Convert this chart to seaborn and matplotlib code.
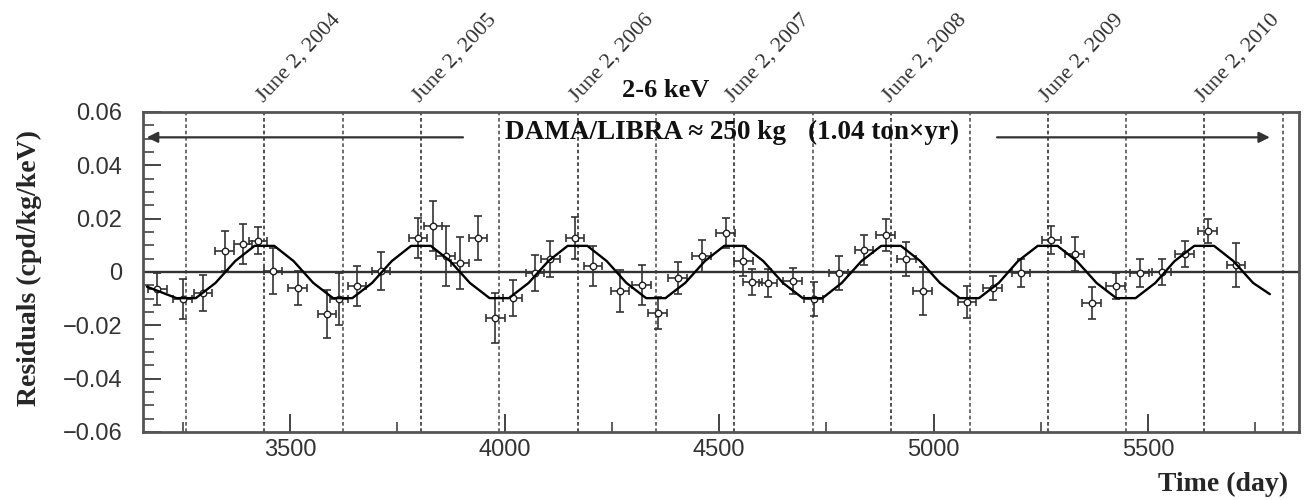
import matplotlib
matplotlib.use("Agg")
import matplotlib.pyplot as plt
import numpy as np
import pandas as pd
import seaborn as sns
from matplotlib.ticker import FixedLocator, FixedFormatter, MultipleLocator

# ---------------- data ----------------
day = [3190, 3250, 3297, 3348, 3390, 3425, 3460, 3518, 3586, 3614,
       3656, 3712, 3798, 3833, 3863, 3896, 3938, 3978, 4019, 4071,
       4106, 4164, 4206, 4269, 4320, 4357, 4404, 4460, 4516, 4556,
       4577, 4614, 4672, 4721, 4779, 4838, 4889, 4936, 4975, 5078,
       5138, 5204, 5274, 5329, 5369, 5425, 5481, 5532, 5586, 5639,
       5705]
residual = [-0.0064, -0.0102, -0.0079, 0.0079, 0.0105, 0.0117, 0.0004, -0.0060, -0.0158, -0.0102,
            -0.0053, 0.0004, 0.0128, 0.0173, 0.0060, 0.0034, 0.0128, -0.0173, -0.0098, -0.0004,
            0.0049, 0.0128, 0.0023, -0.0071, -0.0049, -0.0154, -0.0023, 0.0060, 0.0147, 0.0041,
            -0.0038, -0.0041, -0.0034, -0.0102, -0.0004, 0.0083, 0.0139, 0.0049, -0.0071, -0.0113,
            -0.0060, -0.0004, 0.0120, 0.0068, -0.0117, -0.0053, -0.0004, 0.0000, 0.0068, 0.0154,
            0.0026]
residual_err = [0.0060, 0.0075, 0.0068, 0.0075, 0.0075, 0.0050, 0.0087, 0.0064, 0.0090, 0.0098,
                0.0075, 0.0071, 0.0075, 0.0094, 0.0113, 0.0098, 0.0083, 0.0094, 0.0068, 0.0068,
                0.0068, 0.0079, 0.0075, 0.0079, 0.0075, 0.0060, 0.0060, 0.0060, 0.0056, 0.0056,
                0.0050, 0.0053, 0.0050, 0.0064, 0.0064, 0.0056, 0.0060, 0.0064, 0.0090, 0.0060,
                0.0045, 0.0053, 0.0053, 0.0064, 0.0060, 0.0050, 0.0053, 0.0050, 0.0050, 0.0045,
                0.0083]
day_halfwidth = 22

fit_day = [3166, 3235, 3280, 3326, 3372, 3417, 3463, 3508, 3554, 3600,
           3645, 3691, 3737, 3782, 3828, 3873, 3919, 3965, 4010, 4056,
           4102, 4147, 4193, 4238, 4284, 4330, 4375, 4421, 4467, 4512,
           4558, 4603, 4649, 4695, 4741, 4786, 4832, 4878, 4924, 4969,
           5015, 5061, 5106, 5152, 5197, 5243, 5289, 5334, 5380, 5426,
           5471, 5517, 5562, 5608, 5654, 5699, 5745, 5784]
fit_value = [-0.0055, -0.0098, -0.0098, -0.0041, 0.0041, 0.0098, 0.0098, 0.0041, -0.0041, -0.0098,
             -0.0098, -0.0041, 0.0041, 0.0098, 0.0098, 0.0041, -0.0041, -0.0098, -0.0098, -0.0041,
             0.0041, 0.0098, 0.0098, 0.0041, -0.0041, -0.0098, -0.0098, -0.0041, 0.0041, 0.0098,
             0.0098, 0.0041, -0.0041, -0.0098, -0.0098, -0.0041, 0.0041, 0.0098, 0.0098, 0.0041,
             -0.0041, -0.0098, -0.0098, -0.0041, 0.0041, 0.0098, 0.0098, 0.0041, -0.0041, -0.0098,
             -0.0098, -0.0041, 0.0041, 0.0098, 0.0098, 0.0041, -0.0041, -0.0083]

june_days = [3440, 3805, 4170, 4535, 4901, 5266, 5631]
june_labels = ["June 2, 2004", "June 2, 2005", "June 2, 2006", "June 2, 2007",
               "June 2, 2008", "June 2, 2009", "June 2, 2010"]
december_days = [3257, 3623, 3988, 4353, 4718, 5084, 5449, 5814]

x_ticks = [3500, 4000, 4500, 5000, 5500]
x_ticklabels = ["3500", "4000", "4500", "5000", "5500"]
y_ticks = [-0.06, -0.04, -0.02, 0.0, 0.02, 0.04, 0.06]
y_ticklabels = ["\u22120.06", "\u22120.04", "\u22120.02", "0", "0.02", "0.04", "0.06"]

arrow_left = (3903, 3166)
arrow_right = (5148, 5784)
arrow_level = 0.0505

# ---------------- style ----------------
sns.set_theme(style="white")
plt.rcParams["font.family"] = ["Liberation Sans", "DejaVu Sans"]
plt.rcParams["axes.unicode_minus"] = True
serif = ["Liberation Serif", "DejaVu Serif"]

fig = plt.figure(figsize=(13.12, 5.0), dpi=100)
ax = fig.add_axes([143 / 1312, 68 / 500, 1156 / 1312, 320 / 500])

points = pd.DataFrame({"day": day, "residual": residual, "err": residual_err})
fit = pd.DataFrame({"day": fit_day, "value": fit_value})

# vertical reference lines
for d in december_days:
    ax.axvline(d, color="#555555", lw=1.2, ls=(0, (2.2, 1.6)), zorder=1)
for d in june_days:
    ax.axvline(d, color="#333333", lw=1.2, ls=(0, (2.2, 1.6)), zorder=1)

ax.axhline(0, color="#333333", lw=1.7, zorder=2)

# data points
ax.errorbar(points["day"], points["residual"], yerr=points["err"], xerr=day_halfwidth,
            fmt="none", ecolor="#333333", elinewidth=1.2, capsize=2.6, capthick=1.2, zorder=3)
sns.scatterplot(data=points, x="day", y="residual", ax=ax, marker="o", s=22,
                facecolor="white", edgecolor="#222222", linewidth=1.0, zorder=4, legend=False)

# fit curve
sns.lineplot(data=fit, x="day", y="value", ax=ax, color="black", lw=1.7,
             sort=False, estimator=None, zorder=5)

# arrows
ax.annotate("", xy=(arrow_left[1], arrow_level), xytext=(arrow_left[0], arrow_level),
            arrowprops=dict(arrowstyle="-|>", color="#333333", lw=1.6, mutation_scale=16,
                            shrinkA=0, shrinkB=0), zorder=6)
ax.annotate("", xy=(arrow_right[1], arrow_level), xytext=(arrow_right[0], arrow_level),
            arrowprops=dict(arrowstyle="-|>", color="#333333", lw=1.6, mutation_scale=16,
                            shrinkA=0, shrinkB=0), zorder=6)

# texts
ax.text(4001, 0.0500, "DAMA/LIBRA \u2248 250 kg", family=serif, weight="bold",
        fontsize=19.5, ha="left", va="baseline", color="#111111", zorder=7)
ax.text(4707, 0.0500, "(1.04 ton\u00d7yr)", family=serif, weight="bold",
        fontsize=19.5, ha="left", va="baseline", color="#111111", zorder=7)
ax.text(4376, 1.047, "2-6 keV", transform=ax.get_xaxis_transform(), family=serif,
        weight="bold", fontsize=19, ha="center", va="baseline", color="#111111")

for d, lab in zip(june_days, june_labels):
    ax.annotate(lab, xy=(d, 1.0), xycoords=("data", "axes fraction"), xytext=(-1, 7),
                textcoords="offset points", rotation=47, rotation_mode="anchor",
                ha="left", va="baseline", family=serif, fontsize=16, color="#333333",
                annotation_clip=False)

# axes
ax.set_xlim(3157, 5852)
ax.set_ylim(-0.06, 0.06)
ax.xaxis.set_major_locator(FixedLocator(x_ticks))
ax.xaxis.set_major_formatter(FixedFormatter(x_ticklabels))
ax.xaxis.set_minor_locator(MultipleLocator(250))
ax.yaxis.set_major_locator(FixedLocator(y_ticks))
ax.yaxis.set_major_formatter(FixedFormatter(y_ticklabels))
ax.yaxis.set_minor_locator(MultipleLocator(0.005))

ax.tick_params(axis="both", which="major", direction="in", length=13, width=1.4,
               color="#444444", labelsize=17, labelcolor="#333333")
ax.tick_params(axis="x", which="major", pad=5)
ax.tick_params(axis="y", which="major", pad=15)
ax.tick_params(axis="x", which="minor", direction="in", length=7, width=1.2, color="#444444")
ax.tick_params(axis="y", which="minor", direction="in", length=8, width=1.2, color="#444444")
ax.tick_params(top=False, right=False, which="both")
ax.tick_params(bottom=True, left=True, which="both")

for s in ax.spines.values():
    s.set_visible(True)
    s.set_color("#555555")
    s.set_linewidth(2.0)

ax.set_xlabel("Time (day)", family=serif, weight="bold", fontsize=20, ha="right", va="center")
ax.xaxis.set_label_coords((1288 - 143) / 1156, (432 - 484) / 320)
ax.set_ylabel("Residuals (cpd/kg/keV)", family=serif, weight="bold", fontsize=20,
              ha="center", va="center")
ax.yaxis.set_label_coords((29 - 143) / 1156, (432 - 268) / 320)

fig.savefig("out.png", dpi=100, facecolor="white")
